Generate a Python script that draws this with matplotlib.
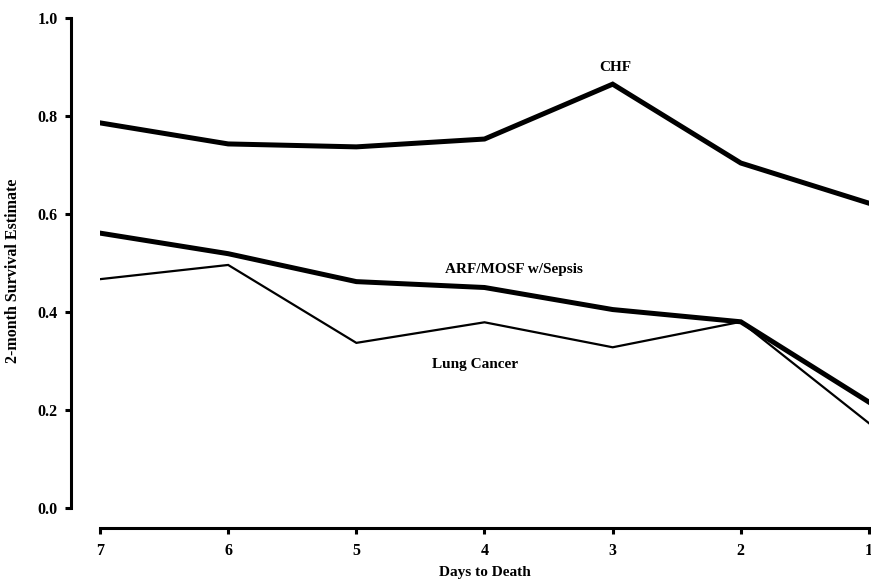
import matplotlib
matplotlib.use("Agg")
import matplotlib.pyplot as plt

days = [7, 6, 5, 4, 3, 2, 1]
chf = [0.786, 0.743, 0.737, 0.753, 0.865, 0.704, 0.622]
arf = [0.561, 0.519, 0.462, 0.450, 0.405, 0.380, 0.216]
lung = [0.467, 0.496, 0.337, 0.379, 0.328, 0.380, 0.173]
yticks = [0.0, 0.2, 0.4, 0.6, 0.8, 1.0]

plt.rcParams['font.family'] = ['Liberation Serif', 'DejaVu Serif']
plt.rcParams['font.weight'] = 'bold'

fig = plt.figure(figsize=(8.71, 5.79), dpi=100)
ax = fig.add_axes([100/871, 1-508/579, (869-100)/871, (508-18)/579])

ax.plot(days, chf, color='black', lw=3.6, solid_joinstyle='miter')
ax.plot(days, arf, color='black', lw=3.6, solid_joinstyle='miter')
ax.plot(days, lung, color='black', lw=1.6, solid_joinstyle='miter')

ax.text(2.98, 0.898, 'CHF', ha='center', va='center', fontsize=11, fontweight='bold')
ax.text(3.77, 0.486, 'ARF/MOSF w/Sepsis', ha='center', va='center', fontsize=11, fontweight='bold')
ax.text(4.07, 0.292, 'Lung Cancer', ha='center', va='center', fontsize=11, fontweight='bold')

ax.set_xlim(7, 1)
ax.set_ylim(0, 1.0)
ax.set_xticks(days)
ax.set_xticklabels([str(d) for d in days])
ax.set_yticks(yticks)
ax.set_yticklabels([f'{v:.1f}' for v in yticks])

for s in ['top', 'right']:
    ax.spines[s].set_visible(False)
ax.spines['left'].set_position(('outward', 21))
ax.spines['bottom'].set_position(('outward', 14.4))
ax.spines['left'].set_linewidth(2.2)
ax.spines['bottom'].set_linewidth(2.2)
ax.tick_params(axis='both', direction='out', width=2.2, length=4.5, labelsize=11.5)
ax.tick_params(axis='x', pad=6)
ax.tick_params(axis='y', pad=5)

ax.set_xlabel('Days to Death', fontsize=11, fontweight='bold', labelpad=5)
ax.set_ylabel('2-month Survival Estimate', fontsize=11.5, fontweight='bold')
ax.yaxis.set_label_coords(-0.103, 0.485)

fig.savefig('out.png', dpi=100)
